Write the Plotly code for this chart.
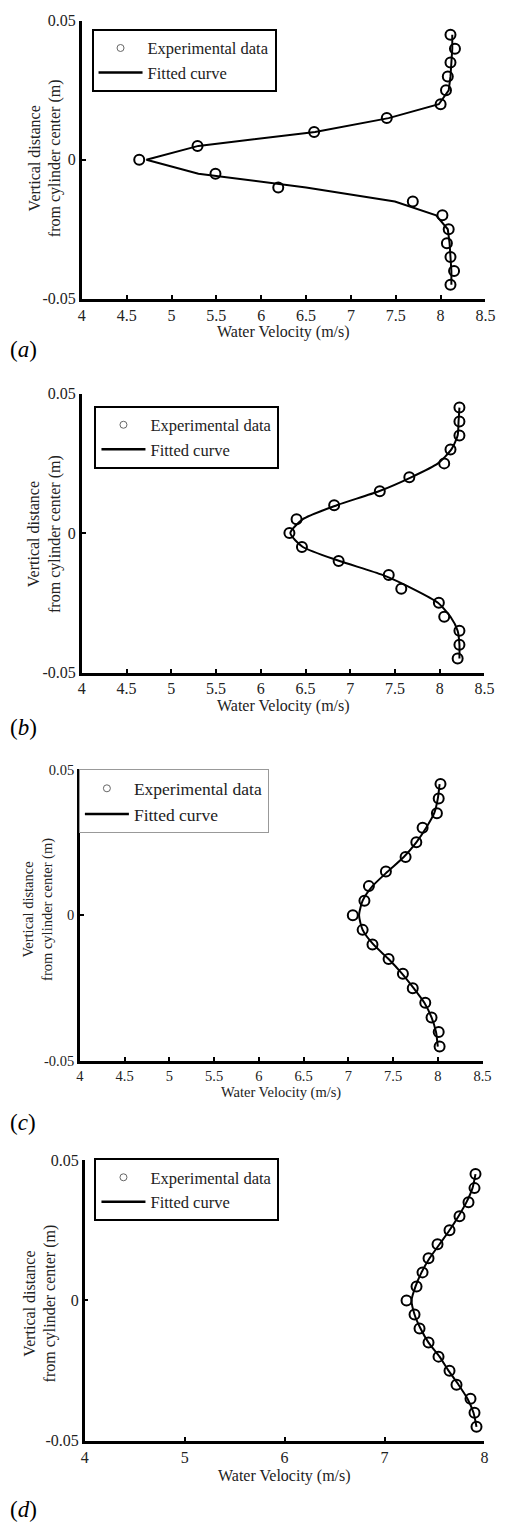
import plotly.graph_objects as go

# ---- data ----
y_pos = [0.045, 0.040, 0.035, 0.030, 0.025, 0.020, 0.015, 0.010, 0.005, 0.0,
         -0.005, -0.010, -0.015, -0.020, -0.025, -0.030, -0.035, -0.040, -0.045]

a_exp = [8.11, 8.16, 8.11, 8.08, 8.06, 8.00, 7.40, 6.59, 5.29, 4.64,
         5.49, 6.19, 7.69, 8.02, 8.09, 8.07, 8.11, 8.15, 8.11]
a_fit = [8.13, 8.13, 8.12, 8.11, 8.09, 7.98, 7.42, 6.60, 5.30, 4.72,
         5.30, 6.50, 7.49, 7.95, 8.08, 8.10, 8.11, 8.12, 8.12]

b_exp = [8.22, 8.22, 8.22, 8.12, 8.05, 7.66, 7.33, 6.82, 6.40, 6.32,
         6.46, 6.87, 7.43, 7.57, 7.99, 8.05, 8.22, 8.22, 8.20]
b_fit = [8.22, 8.21, 8.20, 8.13, 7.98, 7.68, 7.32, 6.85, 6.47, 6.33,
         6.47, 6.88, 7.36, 7.70, 7.98, 8.12, 8.20, 8.22, 8.22]

c_exp = [8.03, 8.01, 7.99, 7.83, 7.76, 7.64, 7.42, 7.23, 7.18, 7.05,
         7.16, 7.27, 7.45, 7.61, 7.72, 7.86, 7.93, 8.01, 8.02]
c_fit = [8.02, 8.00, 7.96, 7.87, 7.76, 7.62, 7.44, 7.27, 7.16, 7.12,
         7.16, 7.28, 7.45, 7.60, 7.73, 7.85, 7.93, 7.98, 8.00]

d_exp = [7.91, 7.90, 7.84, 7.75, 7.65, 7.53, 7.44, 7.38, 7.32, 7.22,
         7.30, 7.35, 7.44, 7.54, 7.65, 7.72, 7.86, 7.90, 7.92]
d_fit = [7.91, 7.88, 7.82, 7.74, 7.65, 7.55, 7.45, 7.37, 7.31, 7.27,
         7.30, 7.36, 7.44, 7.55, 7.64, 7.74, 7.83, 7.89, 7.92]

x_ticks_abc = [4, 4.5, 5, 5.5, 6, 6.5, 7, 7.5, 8, 8.5]
x_ticks_d = [4, 5, 6, 7, 8]
y_ticks = [0.05, 0, -0.05]
y_ticktext = ["0.05", "0", "-0.05"]
panel_labels = ["a", "b", "c", "d"]
legend_names = ["Experimental data", "Fitted curve"]
x_title = "Water Velocity (m/s)"
y_title = "Vertical distance<br>from cylinder center (m)"

# ---- layout geometry (pixels) ----
W, H = 512, 1528
FONT = "Liberation Serif, Times New Roman, serif"
TXT = "#222222"

panels = [
    dict(exp=a_exp, fit=a_fit, xr=[4, 8.5], xt=x_ticks_abc, box=(80, 495, 13, 294),
         leg=(90, 21), legborder=("black", 2), legfs=16.5, ytx=42, yty=152, xty=328,
         lab=345, fs=16, shape="linear"),
    dict(exp=b_exp, fit=b_fit, xr=[4, 8.5], xt=x_ticks_abc, box=(80, 494, 390, 672),
         leg=(93, 402), legborder=("black", 2), legfs=16.5, ytx=41, yty=532, xty=706,
         lab=728, fs=16, shape="spline"),
    dict(exp=c_exp, fit=c_fit, xr=[4, 8.5], xt=x_ticks_abc, box=(78, 492, 770, 1065),
         leg=(77, 770), legborder=("#999999", 1), legfs=17.5, ytx=35, yty=912, xty=1097,
         lab=1127, fs=14.5, shape="spline"),
    dict(exp=d_exp, fit=d_fit, xr=[4, 8], xt=x_ticks_d, box=(83, 494, 1165, 1449),
         leg=(93, 1163), legborder=("black", 2), legfs=16.5, ytx=37, yty=1310, xty=1485,
         lab=1518, fs=16, shape="spline"),
]

fig = go.Figure()
annotations = []
layout_upd = {}

for i, p in enumerate(panels):
    n = "" if i == 0 else str(i + 1)
    xa, ya = "x" + n, "y" + n
    leg = "legend" + n
    x0, x1, y0, y1 = p["box"]

    # data traces
    fig.add_trace(go.Scatter(
        x=p["exp"], y=y_pos, mode="markers", name=legend_names[0],
        xaxis=xa, yaxis=ya, showlegend=False,
        marker=dict(symbol="circle-open", size=10, color="black",
                    line=dict(width=2, color="black")),
    ))
    fig.add_trace(go.Scatter(
        x=p["fit"], y=y_pos, mode="lines", name=legend_names[1],
        xaxis=xa, yaxis=ya, showlegend=False,
        line=dict(color="black", width=2, shape=p["shape"], smoothing=0.6),
    ))
    # legend entries (styled as in the original legend)
    fig.add_trace(go.Scatter(
        x=[None], y=[None], mode="markers", name=legend_names[0],
        xaxis=xa, yaxis=ya, legend=leg,
        marker=dict(symbol="circle-open", size=7, color="#666666",
                    line=dict(width=1, color="#666666")),
    ))
    fig.add_trace(go.Scatter(
        x=[None], y=[None], mode="lines", name=legend_names[1],
        xaxis=xa, yaxis=ya, legend=leg,
        line=dict(color="black", width=2.5),
    ))

    axis_common = dict(showline=True, linecolor="black", linewidth=2.5,
                       ticks="inside", ticklen=4, tickwidth=2, tickcolor="black",
                       showgrid=False, zeroline=False,
                       tickfont=dict(family=FONT, size=p["fs"], color=TXT))
    layout_upd["xaxis" + n] = dict(
        domain=[x0 / W, x1 / W], range=p["xr"], anchor=ya,
        tickvals=p["xt"], ticktext=[f"{v:g}" for v in p["xt"]], **axis_common)
    layout_upd["yaxis" + n] = dict(
        domain=[1 - y1 / H, 1 - y0 / H], range=[-0.05, 0.05], anchor=xa,
        tickvals=y_ticks, ticktext=y_ticktext, **axis_common)

    bc, bw = p["legborder"]
    layout_upd[leg] = dict(
        x=p["leg"][0] / W, y=1 - p["leg"][1] / H, xanchor="left", yanchor="top",
        xref="paper", yref="paper",
        bgcolor="white", bordercolor=bc, borderwidth=bw,
        font=dict(family=FONT, size=p["legfs"], color=TXT), traceorder="normal",
        itemwidth=44, tracegroupgap=0)

    annotations.append(dict(
        x=p["ytx"] / W, y=1 - p["yty"] / H, xref="paper", yref="paper",
        text=y_title, textangle=-90, showarrow=False, xanchor="center", yanchor="middle",
        font=dict(family=FONT, size=p["fs"], color=TXT)))
    annotations.append(dict(
        x=(x0 + x1) / 2 / W, y=1 - p["xty"] / H, xref="paper", yref="paper",
        text=x_title, showarrow=False, xanchor="center", yanchor="middle",
        font=dict(family=FONT, size=p["fs"], color=TXT)))
    annotations.append(dict(
        x=4 / W, y=1 - p["lab"] / H, xref="paper", yref="paper",
        text="(<i>" + panel_labels[i] + "</i>)", showarrow=False,
        xanchor="left", yanchor="middle",
        font=dict(family=FONT, size=23, color="black")))

fig.update_layout(
    width=W, height=H, margin=dict(l=0, r=0, t=0, b=0),
    paper_bgcolor="white", plot_bgcolor="white", showlegend=True,
    annotations=annotations, **layout_upd)

fig.write_html("out.html",
               config={"displayModeBar": False},
               post_script="document.body.style.margin='0px';"
                           "document.body.style.overflow='hidden';")
